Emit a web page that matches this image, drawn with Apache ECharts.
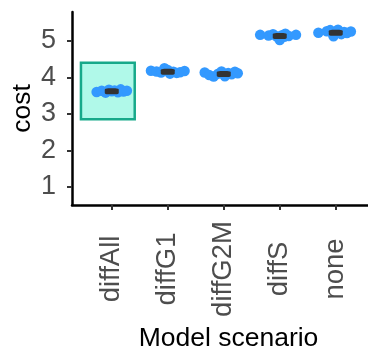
<!DOCTYPE html>
<html>
<head>
<meta charset="utf-8">
<script src="https://cdn.jsdelivr.net/npm/echarts@6/dist/echarts.min.js"></script>
<style>
  html, body { margin: 0; padding: 0; background: #fff; }
  #chart { width: 368px; height: 354px; }
</style>
</head>
<body>
<div id="chart"></div>
<script>
// Scenario names along the x axis
const categories = ['diffAll', 'diffG1', 'diffG2M', 'diffS', 'none'];
const yTicks = [1, 2, 3, 4, 5];

// Per-run cost for each scenario, with horizontal jitter (in category units)
const costDiffAll  = [3.60, 3.63, 3.58, 3.66, 3.62, 3.64, 3.59, 3.67, 3.61, 3.63];
const jitDiffAll   = [-0.27, -0.18, -0.11, -0.05, 0.00, 0.05, 0.11, 0.16, 0.21, 0.27];
const costDiffG1   = [4.18, 4.16, 4.13, 4.25, 4.20, 4.10, 4.15, 4.12, 4.14, 4.17];
const jitDiffG1    = [-0.30, -0.20, -0.12, -0.06, 0.00, 0.04, 0.10, 0.16, 0.22, 0.30];
const costDiffG2M  = [4.13, 4.06, 4.02, 4.10, 4.16, 4.03, 4.12, 4.08, 4.15, 4.11];
const jitDiffG2M   = [-0.34, -0.26, -0.18, -0.10, -0.04, 0.02, 0.08, 0.14, 0.20, 0.25];
const costDiffS    = [5.16, 5.14, 5.18, 5.12, 5.02, 5.15, 5.19, 5.13, 5.11, 5.16];
const jitDiffS     = [-0.35, -0.20, -0.12, -0.06, 0.00, 0.04, 0.10, 0.16, 0.08, 0.29];
const costNone     = [5.22, 5.26, 5.29, 5.12, 5.20, 5.30, 5.18, 5.24, 5.21, 5.25];
const jitNone      = [-0.31, -0.16, -0.10, -0.04, 0.00, 0.04, 0.10, 0.15, 0.20, 0.27];

// Median cost per scenario
const medians = [3.62, 4.15, 4.09, 5.13, 5.22];

// Highlight box around the diffAll scenario: [xmin, xmax, ymin, ymax]
const highlightBox = [0.45, 1.41, 2.85, 4.40];

const costs = [costDiffAll, costDiffG1, costDiffG2M, costDiffS, costNone];
const jitters = [jitDiffAll, jitDiffG1, jitDiffG2M, jitDiffS, jitNone];

const points = [];
costs.forEach((arr, i) => {
  arr.forEach((v, j) => points.push([i + 1 + jitters[i][j], v]));
});
const medianPts = medians.map((m, i) => [i + 1, m]);

const chart = echarts.init(document.getElementById('chart'), null, { renderer: 'canvas' });

const FONT = '"Liberation Sans", Arial, sans-serif';

chart.setOption({
  animation: false,
  backgroundColor: '#ffffff',
  grid: { left: 72, right: 0, top: 12, bottom: 149, containLabel: false, outerBoundsMode: 'none' },
  xAxis: {
    type: 'value',
    min: 0.29,
    max: 5.576,
    name: 'Model scenario',
    nameLocation: 'middle',
    nameGap: 116,
    nameTextStyle: { fontFamily: FONT, fontSize: 26.5, color: '#000', padding: [0, 0, 0, 17] },
    splitLine: { show: false },
    axisLine: { show: true, onZero: false, lineStyle: { color: '#000', width: 2.5 } },
    axisTick: { show: true, length: 5, customValues: [1, 2, 3, 4, 5], lineStyle: { color: '#333', width: 2 } },
    axisLabel: {
      customValues: [1, 2, 3, 4, 5],
      rotate: 90,
      align: 'center',
      verticalAlign: 'middle',
      margin: 64,
      fontFamily: FONT,
      fontSize: 27.5,
      color: '#4d4d4d',
      formatter: v => categories[Math.round(v) - 1] || ''
    }
  },
  yAxis: {
    type: 'value',
    min: 0.508,
    max: 5.785,
    name: 'cost',
    nameLocation: 'middle',
    nameGap: 36,
    nameMoveOverlap: false,
    nameTextStyle: { fontFamily: FONT, fontSize: 26.5, color: '#000' },
    splitLine: { show: false },
    axisLine: { show: true, onZero: false, lineStyle: { color: '#000', width: 2.5 } },
    axisTick: { show: true, length: 5, customValues: yTicks, lineStyle: { color: '#333', width: 2 } },
    axisLabel: {
      customValues: yTicks,
      margin: 16,
      fontFamily: FONT,
      fontSize: 27,
      color: '#4d4d4d'
    }
  },
  series: [
    {
      type: 'custom',
      z: 1,
      data: [highlightBox],
      renderItem: (params, api) => {
        const p0 = api.coord([api.value(0), api.value(3)]);
        const p1 = api.coord([api.value(1), api.value(2)]);
        return {
          type: 'rect',
          shape: { x: p0[0], y: p0[1], width: p1[0] - p0[0], height: p1[1] - p0[1] },
          style: { fill: '#b0f9e9', stroke: '#17a98a', lineWidth: 2.5 }
        };
      }
    },
    {
      type: 'scatter',
      z: 2,
      data: points,
      symbol: 'circle',
      symbolSize: 10.5,
      itemStyle: { color: '#3399ff', opacity: 1 }
    },
    {
      type: 'scatter',
      z: 3,
      data: medianPts,
      symbol: 'roundRect',
      symbolSize: [14, 6],
      itemStyle: { color: '#333333', opacity: 1 }
    }
  ]
});
</script>
</body>
</html>
